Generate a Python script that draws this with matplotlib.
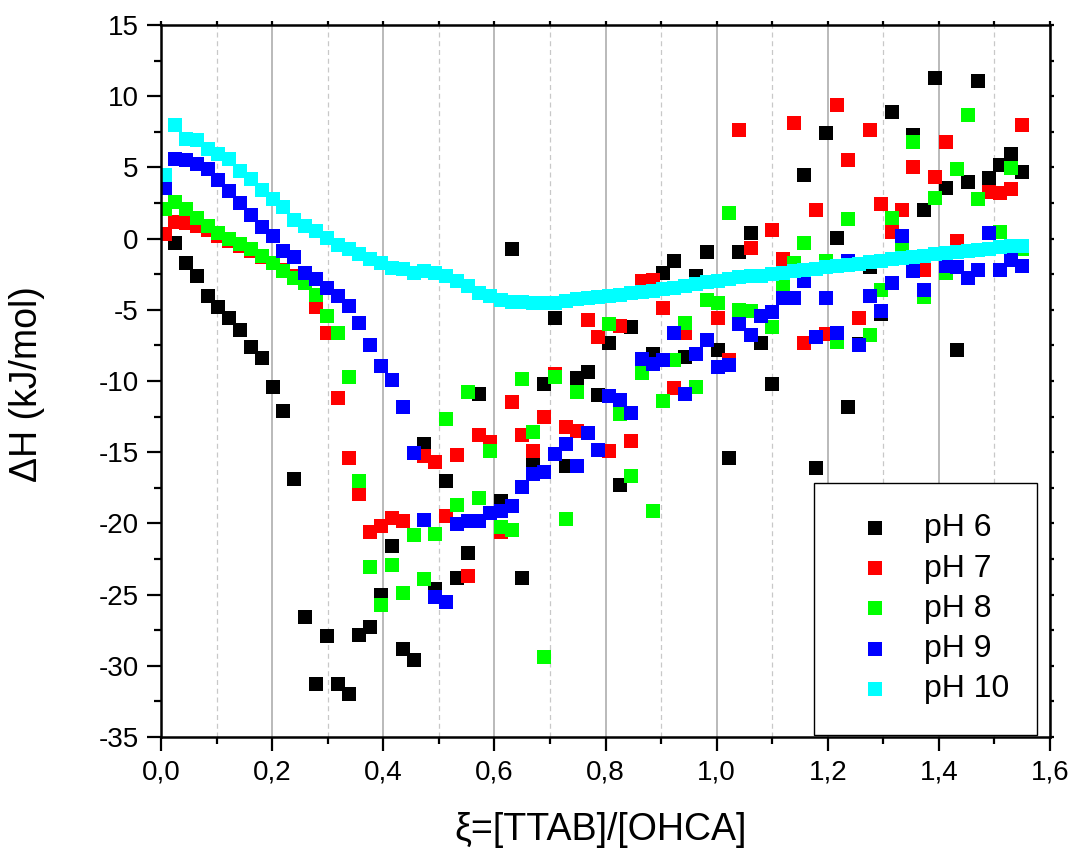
import matplotlib

matplotlib.use("Agg")
import matplotlib.pyplot as plt
import numpy as np
from matplotlib.ticker import FuncFormatter, MultipleLocator

plt.rcParams["font.family"] = ["Liberation Sans", "DejaVu Sans"]

# molar ratio of each injection
xi = [
    0.008, 0.025, 0.045, 0.064, 0.084, 0.103, 0.123, 0.142, 0.162, 0.181,
    0.201, 0.220, 0.240, 0.259, 0.279, 0.298, 0.318, 0.338, 0.357, 0.377,
    0.396, 0.416, 0.435, 0.455, 0.474, 0.494, 0.513, 0.533, 0.552, 0.572,
    0.592, 0.611, 0.631, 0.650, 0.670, 0.689, 0.709, 0.728, 0.748, 0.768,
    0.787, 0.807, 0.826, 0.846, 0.865, 0.885, 0.904, 0.924, 0.943, 0.963,
    0.983, 1.002, 1.022, 1.041, 1.061, 1.080, 1.100, 1.119, 1.139, 1.158,
    1.178, 1.197, 1.217, 1.237, 1.256, 1.276, 1.295, 1.315, 1.334, 1.354,
    1.373, 1.393, 1.413, 1.432, 1.452, 1.471, 1.491, 1.510, 1.530, 1.550,
]

dh_ph6 = [
    None, -0.3, -1.7, -2.6, -4.05, -4.8, -5.6, -6.4, -7.6, -8.4,
    -10.4, -12.1, -16.9, -26.6, -31.3, -27.9, -31.3, -32.0, -27.8, -27.3,
    -25.0, -21.6, -28.8, -29.6, -14.4, -24.6, -17.0, -23.8, -22.05, -10.9,
    None, -18.4, -0.75, -23.8, -15.6, -10.2, -5.6, -16.0, -9.8, -9.4,
    -11.0, -7.3, -17.3, -6.2, None, -8.1, -2.4, -1.55, -8.3, -2.6,
    -0.95, -7.85, -15.4, -0.95, 0.4, -7.3, -10.2, None, None, 4.5,
    -16.1, 7.4, 0.05, -11.8, -7.4, -2.0, -5.3, 8.9, None, 7.3,
    2.0, 11.3, 3.55, -7.8, 4.0, 11.1, 4.25, 5.2, 5.95, 4.65,
]
dh_ph7 = [
    0.3, 1.2, 1.1, 0.9, 0.6, 0.2, -0.2, -0.5, -0.9, -1.3,
    -1.7, -2.2, -2.6, -3.1, -4.8, -6.65, -11.2, -15.4, -17.9, -20.6,
    -20.2, -19.6, -19.8, -15.05, -15.3, -15.7, -19.5, -15.2, -23.7, -13.8,
    -14.3, -20.6, -11.5, -13.8, -14.9, -12.5, -9.5, -13.2, -13.5, -5.7,
    -6.9, -14.9, -6.15, -14.2, -3.0, -2.9, -4.9, -10.5, -6.6, None,
    None, -5.6, -8.5, 7.6, -0.65, None, 0.6, -1.45, 8.1, -7.3,
    2.0, -6.7, 9.35, 5.55, -5.55, 7.6, 2.45, 0.45, 2.0, 5.0,
    -2.2, 4.3, 6.8, -0.2, None, None, 3.3, 3.2, 3.45, 7.95,
]
dh_ph8 = [
    2.1, 2.6, 2.1, 1.45, 0.9, 0.4, 0.0, -0.35, -0.75, -1.2,
    -1.7, -2.25, -2.75, -3.1, -3.95, -5.45, -6.6, -9.7, -17.05, -23.05,
    -25.75, -22.9, -24.9, -20.8, -23.9, -20.75, -12.7, -18.7, -10.8, -18.2,
    -14.9, -20.25, -20.45, -9.85, -13.6, -29.4, -9.75, -19.7, -10.8, None,
    None, -6.0, -12.3, -16.7, -9.45, -19.1, -11.4, -8.5, -5.9, -10.4,
    -4.3, -4.5, 1.8, -5.0, -5.1, None, -6.2, -3.2, -1.7, -0.3,
    None, -1.6, -7.25, 1.4, None, -6.75, -3.6, 1.45, -0.55, 6.8,
    -4.1, 2.85, -2.4, 4.9, 8.7, 2.75, None, 0.45, 4.95, -0.75,
]
dh_ph9 = [
    3.55, 5.6, 5.5, 5.25, 4.9, 4.15, 3.35, 2.5, 1.65, 0.8,
    0.15, -0.9, -1.3, -2.45, -2.85, -3.5, -4.05, -4.7, -5.9, -7.45,
    -8.95, -9.95, -11.85, -15.05, -19.75, -25.15, -25.5, -20.05, -19.85, -19.8,
    -19.25, -19.15, -18.8, -17.45, -16.5, -16.4, -15.1, -14.4, -15.95, -13.65,
    -14.85, -11.05, -11.35, -12.25, -8.45, -8.8, -8.5, -6.6, -10.9, -8.1,
    -7.15, -9.0, -8.9, -6.0, -6.75, -5.45, -5.15, -4.15, -4.2, -3.0,
    -6.9, -4.2, -6.6, -1.6, -7.45, -4.0, -5.1, -3.1, 0.2, -2.25,
    -3.6, None, -1.9, -2.0, -2.8, -2.2, 0.4, -2.2, -1.5, -1.95,
]
dh_ph10 = [
    4.45, 7.95, 7.0, 6.9, 6.3, 5.95, 5.6, 4.75, 4.2, 3.4,
    2.8, 2.2, 1.3, 0.9, 0.5, 0.05, -0.45, -0.7, -1.05, -1.4,
    -1.7, -2.05, -2.15, -2.45, -2.25, -2.4, -2.6, -3.0, -3.35, -3.8,
    -4.05, -4.3, -4.45, -4.45, -4.5, -4.55, -4.5, -4.4, -4.25, -4.2,
    -4.1, -4.05, -3.95, -3.85, -3.75, -3.65, -3.55, -3.45, -3.35, -3.2,
    -3.05, -2.95, -2.85, -2.7, -2.65, -2.6, -2.5, -2.4, -2.3, -2.2,
    -2.1, -2.0, -1.9, -1.85, -1.75, -1.65, -1.55, -1.45, -1.35, -1.3,
    -1.2, -1.1, -1.0, -0.95, -0.85, -0.8, -0.7, -0.6, -0.55, -0.5,
]

series_labels = ["pH 6", "pH 7", "pH 8", "pH 9", "pH 10"]
series_colors = ["#000000", "#ff0000", "#00ff00", "#0000ff", "#00ffff"]
series_values = [dh_ph6, dh_ph7, dh_ph8, dh_ph9, dh_ph10]


def _as_array(values):
    return np.array([np.nan if v is None else v for v in values], dtype=float)


fig = plt.figure(figsize=(10.74, 8.5), dpi=100)
ax = fig.add_axes([0.1499, 0.1329, 0.8278, 0.8377])

x = np.array(xi)
for label, color, values in zip(series_labels, series_colors, series_values):
    ax.scatter(x, _as_array(values), marker="s", s=112, color=color,
               linewidths=0, label=label)

ax.set_xlim(0, 1.6)
ax.set_ylim(-35, 15)

ax.xaxis.set_major_locator(MultipleLocator(0.2))
ax.xaxis.set_minor_locator(MultipleLocator(0.1))
ax.yaxis.set_major_locator(MultipleLocator(5))
ax.yaxis.set_minor_locator(MultipleLocator(2.5))
ax.xaxis.set_major_formatter(FuncFormatter(lambda v, _: f"{v:.1f}".replace(".", ",")))
ax.yaxis.set_major_formatter(FuncFormatter(lambda v, _: f"{v:.0f}"))

ax.grid(True, which="major", axis="x", color="#b4b4b4", linewidth=1.3, zorder=0)
ax.grid(True, which="minor", axis="x", color="#c8c8c8", linewidth=0.9,
        linestyle=(0, (4, 3)), zorder=0)
ax.set_axisbelow(True)

for spine in ax.spines.values():
    spine.set_linewidth(1.8)

ax.tick_params(which="major", direction="out", length=10, width=1.6,
               labelsize=20, pad=6)
ax.tick_params(which="minor", direction="out", length=5, width=1.6)
ax.tick_params(which="both", top=True, right=True)
for tick in ax.xaxis.get_major_ticks() + ax.xaxis.get_minor_ticks():
    tick.tick2line.set_markersize(3)
for tick in ax.yaxis.get_major_ticks() + ax.yaxis.get_minor_ticks():
    tick.tick2line.set_markersize(3)

ax.set_xlabel("\u03be=[TTAB]/[OHCA]", fontsize=27)
ax.set_ylabel("\u0394H (kJ/mol)", fontsize=27)
ax.xaxis.set_label_coords(0.494, -0.105)
ax.yaxis.set_label_coords(-0.130, 0.496)

legend = ax.legend(loc="lower left", bbox_to_anchor=(0.735, 0.003, 0.25, 0.355),
                   mode="expand", fontsize=23, frameon=True, fancybox=False,
                   edgecolor="black", framealpha=1, borderpad=0.96,
                   labelspacing=0.32, handlelength=1.9, handletextpad=0.58,
                   scatterpoints=1, borderaxespad=0)
legend.get_frame().set_linewidth(1.0)

fig.savefig("out.png", dpi=100)
